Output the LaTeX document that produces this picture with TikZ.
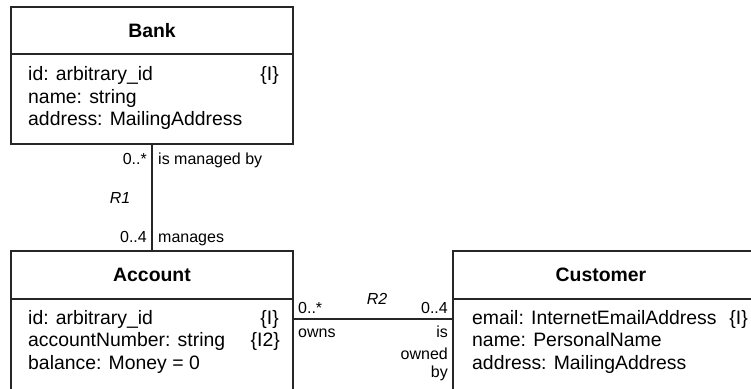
\documentclass[tikz,border=0pt]{standalone}
\usepackage{fontspec}
\setmainfont{Liberation Sans}
\begin{document}
\begin{tikzpicture}[x=1pt,y=-1pt,
  classbox/.style={draw=black!85, line width=1.5pt, inner sep=0pt, outer sep=0pt},
  divider/.style={draw=black!85, line width=1.5pt},
  assoc/.style={draw=black!85, line width=1.5pt},
  title/.style={font=\fontsize{19.4}{22}\selectfont\bfseries, inner sep=0pt, anchor=base},
  attr/.style={font=\fontsize{19.4}{22}\selectfont, inner sep=0pt, anchor=base west},
  ident/.style={font=\fontsize{19.4}{22}\selectfont, inner sep=0pt, anchor=base east},
  lbl/.style={font=\fontsize{16}{19}\selectfont, inner sep=0pt},
  rname/.style={font=\fontsize{16}{19}\selectfont\itshape, inner sep=0pt, anchor=base}]
\useasboundingbox (0,0) rectangle (751,388);
\clip (0,0) rectangle (751,388);

% class boxes
\node[classbox, minimum width=282pt, minimum height=137pt] (bank) at (152,75.5) {};
\node[classbox, minimum width=282pt, minimum height=160pt] (account) at (152,331) {};
\node[classbox, minimum width=310pt, minimum height=160pt] (customer) at (608,331) {};

% header dividers
\draw[divider] (bank.west |- 0,54) -- (bank.east |- 0,54);
\draw[divider] (account.west |- 0,299) -- (account.east |- 0,299);
\draw[divider] (customer.west |- 0,299) -- (customer.east |- 0,299);

% Bank
\node[title] (bankname) at (152,37) {Bank};
\node[attr] (bank1) at (28,80.5) {id: arbitrary\_id};
\node[ident] (bank1i) at (279,80.5) {\{I\}};
\node[attr] (bank2) at (28,103) {name: string};
\node[attr] (bank3) at (28,125.5) {address: MailingAddress};

% Account
\node[title] (accname) at (152,281) {Account};
\node[attr] (acc1) at (28,324) {id: arbitrary\_id};
\node[ident] (acc1i) at (279,324) {\{I\}};
\node[attr] (acc2) at (28,346.5) {accountNumber: string};
\node[ident] (acc2i) at (280,346.5) {\{I2\}};
\node[attr] (acc3) at (28,369) {balance: Money = 0};

% Customer
\node[title] (custname) at (601,281) {Customer};
\node[attr] (cust1) at (472,324) {email: InternetEmailAddress};
\node[ident] (cust1i) at (748,324) {\{I\}};
\node[attr] (cust2) at (472,346.5) {name: PersonalName};
\node[attr] (cust3) at (472,369) {address: MailingAddress};

% R1: Bank -- Account
\draw[assoc] (bank.south) -- (account.north);
\node[rname] (r1) at (120,203) {R1};
\node[lbl, anchor=base east] (r1m1) at (147,164) {0..*};
\node[lbl, anchor=base west] (r1p1) at (158,164) {is managed by};
\node[lbl, anchor=base east] (r1m2) at (147,242) {0..4};
\node[lbl, anchor=base west] (r1p2) at (158,242) {manages};

% R2: Account -- Customer
\coordinate (r2) at (373,319);
\draw[assoc] (account.east |- r2) -- (customer.west |- r2);
\node[rname] (r2n) at (377,304) {R2};
\node[lbl, anchor=base west] (r2m1) at (298,313) {0..*};
\node[lbl, anchor=base east] (r2m2) at (448,313) {0..4};
\node[lbl, anchor=base west] (r2p1) at (298,337) {owns};
\node[lbl, anchor=base east] (r2p2) at (448,337) {is};
\node[lbl, anchor=base east] (r2p3) at (448,359) {owned};
\node[lbl, anchor=base east] (r2p4) at (448,377) {by};
\end{tikzpicture}
\end{document}
